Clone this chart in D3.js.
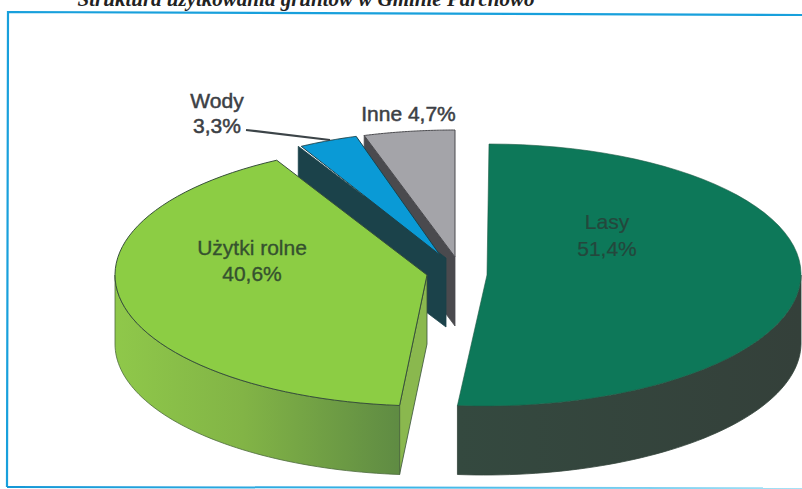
<!DOCTYPE html>
<html lang="pl">
<head>
<meta charset="utf-8">
<script src="https://cdn.jsdelivr.net/npm/d3@7/dist/d3.min.js"></script>
<style>
html,body{margin:0;padding:0;background:#fff;overflow:hidden}
svg{display:block}
text{font-family:"Liberation Sans",Arial,sans-serif;font-size:21px}
</style>
</head>
<body>
<svg id="c" width="802" height="489"></svg>
<script>
const categories = ["Lasy", "Użytki rolne", "Wody", "Inne"];
const values = [51.4, 40.6, 3.3, 4.7];
const valueLabels = ["51,4%", "40,6%", "3,3%", "4,7%"];
const titleText = "Struktura użytkowania gruntów w Gminie Parchowo";

// slice layout (exploded, perspective-adjusted ellipse per slice)
const sliceLayout = [
  {cx:487, cy:275, rx:314, ry:131, skew:2, top:"#0d7859", side:"url(#gLasy)",  radial:null,      edge:"#1d5a45"},
  {cx:427, cy:275, rx:312, ry:131, top:"#8ccd44", side:"url(#gRolne)", radial:"#8ab84e", edge:"#37503a"},
  {cx:440, cy:255, rx:288, ry:124, top:"#0a9ad6", side:null,           radial:"#1b424a", edge:"#1b424a", sdx:6, sdy:3, rdx:-3},
  {cx:455, cy:257, rx:312, ry:127, top:"#a4a4a9", side:null,           radial:"#4a4a4e", edge:"#4a4a4e"}
];
const depth = 69;
const drawOrder = [3, 2, 1, 0];

const svg = d3.select("#c");
const defs = svg.append("defs");
function grad(id, stops, x1, x2){
  const g = defs.append("linearGradient").attr("id", id).attr("gradientUnits","userSpaceOnUse")
    .attr("x1", x1).attr("x2", x2).attr("y1", 0).attr("y2", 0);
  stops.forEach(s => g.append("stop").attr("offset", s[0]).attr("stop-color", s[1]));
}
grad("gLasy",  [[0,"#34493f"],[1,"#34403a"]], 458, 801);
grad("gRolne", [[0,"#8fc84a"],[0.45,"#82b446"],[1,"#5f8b43"]], 115, 400);
grad("gBottom",[[0,"#1597d6"],[0.5,"#3cb4e6"],[1,"#a8e2f6"]], 8, 802);

svg.append("text").text(titleText)
  .attr("x", 306).attr("y", 6).attr("text-anchor","middle")
  .style("font-family","'Liberation Serif',serif").style("font-weight","bold").style("font-style","italic")
  .style("font-size","21px").attr("fill","#222");

// frame
const frameColor = "#18a0dc";
const line = d3.line();
svg.append("path").attr("d", line([[802,15],[8,12],[7,487]])).attr("fill","none").attr("stroke",frameColor).attr("stroke-width",2.2);
svg.append("path").attr("d", line([[7,487],[802,488.2]])).attr("fill","none").attr("stroke","url(#gBottom)").attr("stroke-width",2);

const arcs = d3.pie().sort(null).value(d => d)(values);

const px = (L, a) => L.cx + L.rx * Math.sin(a) + (L.skew || 0) * Math.cos(a);
const py = (L, a) => L.cy - L.ry * Math.cos(a);
const rim = (L, a0, a1) => d3.range(0, 61).map(i => { const a = a0 + (a1 - a0) * i / 60; return [px(L,a), py(L,a)]; });

const g = svg.append("g");
drawOrder.forEach(i => {
  const L = sliceLayout[i], A = arcs[i];
  // radial wall
  if (L.radial) {
    const a = A.startAngle;
    const dx = L.sdx || 0, dy = L.sdy || 0, rdx = L.rdx || 0;
    const r = [px(L,a) + rdx, py(L,a)];
    const c = [L.cx + dx, L.cy + dy];
    g.append("path").attr("d", line([r, c, [c[0], c[1] + depth], [r[0], r[1] + depth]]) + "Z")
      .attr("fill", L.radial).attr("stroke", L.edge).attr("stroke-width", 0.8);
  }
  // outer curved wall: visible where the rim faces the viewer
  if (L.side) {
    const a0 = Math.max(A.startAngle, Math.PI / 2), a1 = Math.min(A.endAngle, 3 * Math.PI / 2);
    const t = rim(L, a0, a1);
    const b = t.map(p => [p[0], p[1] + depth]).reverse();
    g.append("path").attr("d", line(t.concat(b)) + "Z").attr("fill", L.side)
      .attr("stroke", i === 1 ? "#4c6b3c" : "#33443b").attr("stroke-width", 0.8);
  }
  // top face
  const pts = [[L.cx, L.cy]].concat(rim(L, A.startAngle, A.endAngle));
  g.append("path").attr("d", line(pts) + "Z").attr("fill", L.top)
    .attr("stroke", L.edge).attr("stroke-width", i === 0 ? 0.6 : 1).attr("stroke-linejoin","round");
});

// leader
svg.append("path").attr("d", line([[246,130],[330,140]])).attr("fill","none").attr("stroke","#3c4448").attr("stroke-width",2.2);

// labels
const labelPos = [
  {x:607, y:229, y2:256, fill:"#24473c", lw:0.2},
  {x:252, y:255, y2:281, fill:"#35512f", lw:0.35},
  {x:217, y:108, y2:133, fill:"#3c4045", lw:0.5}
];
labelPos.forEach((p, i) => {
  svg.append("text").text(categories[i]).attr("x", p.x).attr("y", p.y).attr("text-anchor","middle").attr("fill", p.fill).attr("stroke",p.fill).attr("stroke-width",p.lw);
  svg.append("text").text(valueLabels[i]).attr("x", p.x).attr("y", p.y2).attr("text-anchor","middle").attr("fill", p.fill).attr("stroke",p.fill).attr("stroke-width",p.lw);
});
svg.append("text").text(categories[3] + " " + valueLabels[3]).attr("x", 408.5).attr("y", 121)
  .attr("text-anchor","middle").attr("fill","#3c4045").attr("stroke","#3c4045").attr("stroke-width",0.5);
</script>
</body>
</html>
